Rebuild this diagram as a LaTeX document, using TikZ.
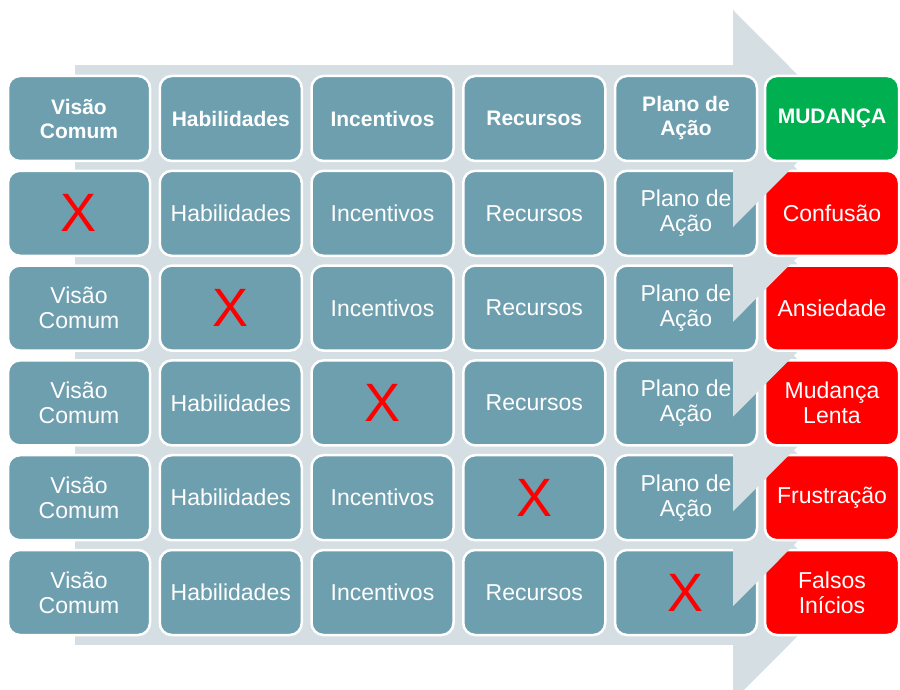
\documentclass[tikz,border=0pt]{standalone}
\usepackage{fontspec}
\setmainfont{Liberation Sans}
\usepackage{xcolor}
\usetikzlibrary{positioning}
\definecolor{cellteal}{HTML}{6E9FAF}
\definecolor{arrowgray}{HTML}{D5DEE3}
\definecolor{okgreen}{HTML}{00B050}
\newcommand\nomark{{\fontsize{54}{54}\selectfont\color{red}X}}

\begin{document}
\begin{tikzpicture}[x=1pt,y=-1pt,
  cell/.style={draw=white,line width=2.5pt,rounded corners=12pt,fill=cellteal,text=white,
    minimum width=142pt,minimum height=85pt,inner sep=0pt,outer sep=0pt,align=center,
    font=\fontsize{23}{25}\selectfont},
  hdr/.style={cell,font=\fontsize{21}{24}\selectfont\bfseries},
  result/.style={cell,fill=red,minimum width=134pt},
  node distance=9.75pt]
\useasboundingbox (0,0) rectangle (900,690);
\clip (0,0) rectangle (900,690);
% arrow body behind all rows
\fill[arrowgray] (75,65) rectangle (733,645);
% rows from bottom to top, each with its own arrow head
\foreach \k/\va/\vb/\vc/\vd/\ve/\vf in {
  6/{Visão\\Comum}/Habilidades/Incentivos/Recursos/\nomark/{Falsos\\Inícios},
  5/{Visão\\Comum}/Habilidades/Incentivos/\nomark/{Plano de\\Ação}/Frustração,
  4/{Visão\\Comum}/Habilidades/\nomark/Recursos/{Plano de\\Ação}/{Mudança\\Lenta},
  3/{Visão\\Comum}/\nomark/Incentivos/Recursos/{Plano de\\Ação}/Ansiedade,
  2/\nomark/Habilidades/Incentivos/Recursos/{Plano de\\Ação}/Confusão}{
  \pgfmathsetmacro\cy{118.5+94.8*(\k-1)}
  \fill[arrowgray] (733,\cy-108.5) -- (841,\cy) -- (733,\cy+108.5) -- cycle;
  \node[cell] (vis\k) at (79,\cy) {\va};
  \node[cell,right=of vis\k] (hab\k) {\vb};
  \node[cell,right=of hab\k] (inc\k) {\vc};
  \node[cell,right=of inc\k] (rec\k) {\vd};
  \node[cell,right=of rec\k] (pla\k) {\ve};
  \node[result,right=8pt of pla\k] (res\k) {\vf};
}
% header row
\fill[arrowgray] (733,10) -- (841,118.5) -- (733,227) -- cycle;
\node[hdr] (vis1) at (79,118.5) {Visão\\Comum};
\node[hdr,right=of vis1] (hab1) {Habilidades};
\node[hdr,right=of hab1] (inc1) {Incentivos};
\node[hdr,right=of inc1] (rec1) {Recursos};
\node[hdr,right=of rec1] (pla1) {Plano de\\Ação};
\node[result,fill=okgreen,font=\fontsize{21}{24}\selectfont\bfseries,right=8pt of pla1] (res1) {MUDANÇA};
\end{tikzpicture}
\end{document}
